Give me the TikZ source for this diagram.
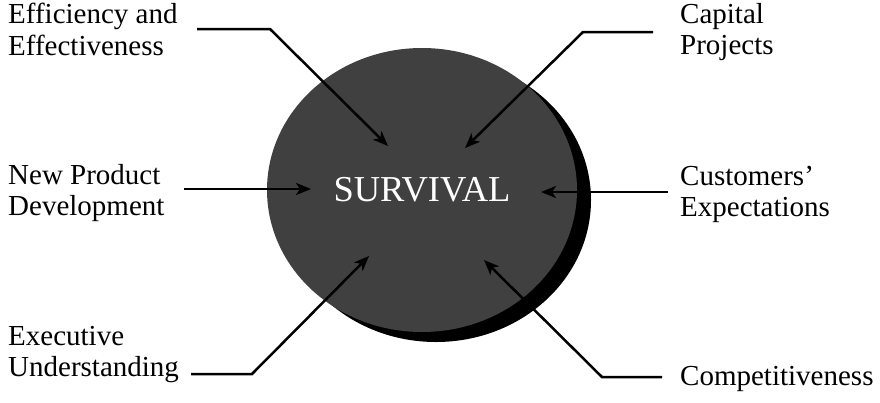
\documentclass[tikz,border=0pt]{standalone}
\usepackage{fontspec}
\setmainfont{Liberation Serif}
\usetikzlibrary{arrows.meta,positioning,shapes.geometric}
\definecolor{ink}{HTML}{000000}
\definecolor{disc}{HTML}{404040}
\tikzset{
  lbl/.style={anchor=north west,align=left,inner sep=0pt,text=ink,
    font=\fontsize{29}{31.5}\selectfont},
  feed/.style={-{Stealth[length=15pt,width=12pt,inset=4pt]},line width=2.5pt,draw=ink},
  blob/.style={ellipse,minimum width=310pt,minimum height=284pt,inner sep=0pt}
}

\begin{document}
\begin{tikzpicture}[x=1pt,y=-1pt]
  \useasboundingbox (0,0) rectangle (880,402);

  % the disc and its shadow
  \node[blob,fill=ink] (shadow) at (436,200) {};
  \node[blob,fill=disc,text=white,font=\fontsize{36.5}{40}\selectfont] (surv) at (422,190) {SURVIVAL};

  % labels
  \node[lbl] (eff)  at (8,3)    {Efficiency and\\Effectiveness};
  \node[lbl] (cap)  at (680,3)  {Capital\\Projects};
  \node[lbl] (npd)  at (8,164)  {New Product\\Development};
  \node[lbl] (cust) at (680,166){Customers'\\Expectations};
  \node[lbl] (exec) at (8,326)  {Executive\\Understanding};
  \node[lbl] (comp) at (680,366){Competitiveness};

  % connector points
  \coordinate (effA) at (197,29);  \coordinate (effB) at (270,29);  \coordinate (effT) at (388,146);
  \coordinate (capA) at (653,32);  \coordinate (capB) at (583,32);  \coordinate (capT) at (465,148);
  \coordinate (npdA) at (184,189); \coordinate (npdT) at (311,189);
  \coordinate (custA) at (668,192);\coordinate (custT) at (541,192);
  \coordinate (exeA) at (191,374); \coordinate (exeB) at (252,374); \coordinate (exeT) at (369,256);
  \coordinate (comA) at (662,377); \coordinate (comB) at (602,377); \coordinate (comT) at (484,260);

  \draw[feed] (effA) -- (effB) -- (effT);
  \draw[feed] (capA) -- (capB) -- (capT);
  \draw[feed] (npdA) -- (npdT);
  \draw[feed] (custA) -- (custT);
  \draw[feed] (exeA) -- (exeB) -- (exeT);
  \draw[feed] (comA) -- (comB) -- (comT);
\end{tikzpicture}
\end{document}
